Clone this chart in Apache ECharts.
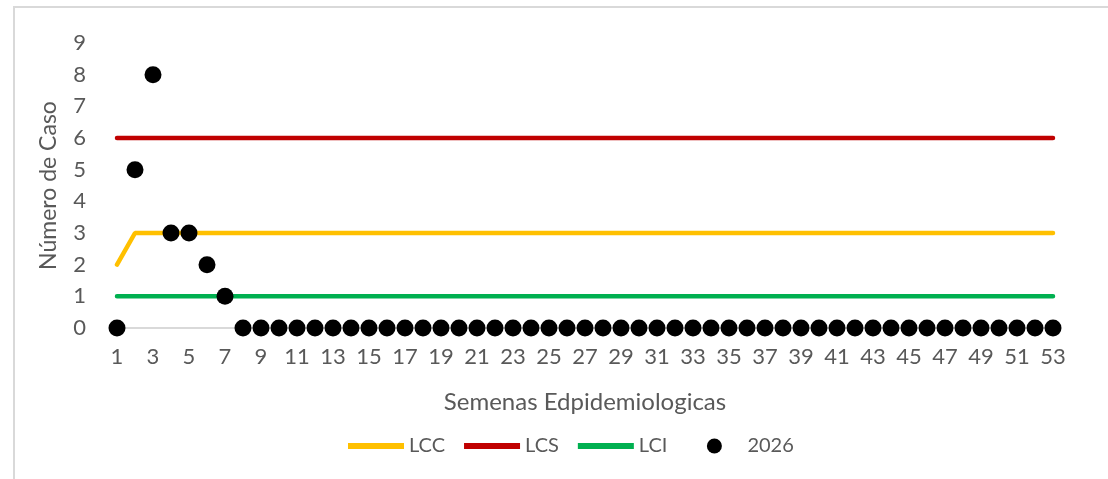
<!DOCTYPE html>
<html>
<head>
<meta charset="utf-8">
<style>
  html, body { margin: 0; padding: 0; background: #fff; }
  #frame {
    position: absolute; left: 13px; top: 6px; right: -2px; bottom: -2px;
    border: 2px solid #d9d9d9;
  }
  #chart { position: absolute; left: 0; top: 0; width: 1108px; height: 479px; }
</style>
<script src="https://cdn.jsdelivr.net/npm/echarts@6/dist/echarts.min.js"></script>
</head>
<body>
<div id="frame"></div>
<div id="chart"></div>
<script>
// semanas 1..53
var weeks = [];
for (var w = 1; w <= 53; w++) weeks.push(String(w));

var lcc = [2, 3, 3, 3, 3, 3, 3, 3, 3, 3, 3, 3, 3, 3, 3, 3, 3, 3, 3, 3, 3, 3, 3, 3, 3, 3, 3,
  3, 3, 3, 3, 3, 3, 3, 3, 3, 3, 3, 3, 3, 3, 3, 3, 3, 3, 3, 3, 3, 3, 3, 3, 3, 3];
var lcs = [6, 6, 6, 6, 6, 6, 6, 6, 6, 6, 6, 6, 6, 6, 6, 6, 6, 6, 6, 6, 6, 6, 6, 6, 6, 6, 6,
  6, 6, 6, 6, 6, 6, 6, 6, 6, 6, 6, 6, 6, 6, 6, 6, 6, 6, 6, 6, 6, 6, 6, 6, 6, 6];
var lci = [1, 1, 1, 1, 1, 1, 1, 1, 1, 1, 1, 1, 1, 1, 1, 1, 1, 1, 1, 1, 1, 1, 1, 1, 1, 1, 1,
  1, 1, 1, 1, 1, 1, 1, 1, 1, 1, 1, 1, 1, 1, 1, 1, 1, 1, 1, 1, 1, 1, 1, 1, 1, 1];
var casos2026 = [0, 5, 8, 3, 3, 2, 1, 0, 0, 0, 0, 0, 0, 0, 0, 0, 0, 0, 0, 0, 0, 0, 0, 0, 0, 0, 0,
  0, 0, 0, 0, 0, 0, 0, 0, 0, 0, 0, 0, 0, 0, 0, 0, 0, 0, 0, 0, 0, 0, 0, 0, 0, 0];

var font = 'Lato, "Open Sans", sans-serif';
var gris = '#595959';

// icono de linea: barra de 6px centrada en una caja de 56x15
var iconLinea = 'path://M0,0 L56,0 L56,0.01 Z M0,4.5 L56,4.5 L56,10.5 L0,10.5 Z M0,15 L56,15 L56,14.99 Z';

var myChart = echarts.init(document.getElementById('chart'));

function linea(name, data, color) {
  return {
    name: name,
    type: 'line',
    data: data,
    symbol: 'none',
    lineStyle: { color: color, width: 4.5, cap: 'round' },
    itemStyle: { color: color },
    z: 2
  };
}

myChart.setOption({
  animation: false,
  grid: { left: 117, right: 55, top: 43, bottom: 151 },
  legend: {
    top: 436,
    left: 348,
    padding: 0,
    itemWidth: 56,
    itemHeight: 15,
    itemGap: 19,
    textStyle: { color: gris, fontSize: 20, fontFamily: font },
    // el punto de 2026 queda mas separado en el original
    formatter: function (name) {
      return name === 'LCI' ? name + '    ' : name;
    },
    data: [
      { name: 'LCC', icon: iconLinea },
      { name: 'LCS', icon: iconLinea },
      { name: 'LCI', icon: iconLinea },
      { name: '2026', icon: 'circle', itemStyle: { color: '#000' } }
    ]
  },
  xAxis: {
    type: 'category',
    data: weeks,
    boundaryGap: false,
    name: 'Semenas Edpidemiologicas',
    nameLocation: 'middle',
    nameGap: 62,
    nameTextStyle: { color: gris, fontSize: 24, fontFamily: font },
    axisLine: { lineStyle: { color: '#d9d9d9', width: 2 } },
    axisTick: { show: false },
    axisLabel: {
      color: gris, fontSize: 22, fontFamily: font, margin: 18,
      interval: 1
    },
    splitLine: { show: false }
  },
  yAxis: {
    type: 'value',
    min: 0,
    max: 9,
    interval: 1,
    name: 'Número de Caso',
    nameLocation: 'middle',
    nameGap: 57,
    nameTextStyle: { color: gris, fontSize: 23, fontFamily: font },
    axisLine: { show: false },
    axisTick: { show: false },
    axisLabel: { color: gris, fontSize: 22, fontFamily: font, margin: 31 },
    splitLine: { show: false }
  },
  series: [
    linea('LCC', lcc, '#FFC000'),
    linea('LCS', lcs, '#C00000'),
    linea('LCI', lci, '#00B050'),
    {
      name: '2026',
      type: 'scatter',
      data: casos2026,
      symbol: 'circle',
      symbolSize: 17,
      itemStyle: { color: '#000', opacity: 1 },
      z: 3
    }
  ]
});
</script>
</body>
</html>
